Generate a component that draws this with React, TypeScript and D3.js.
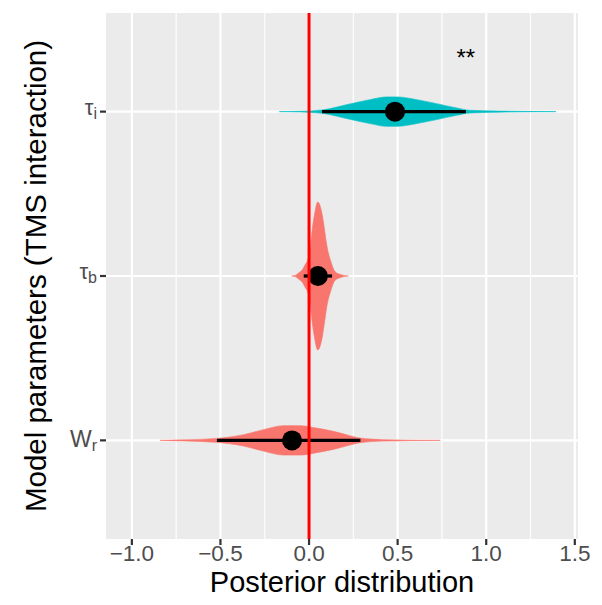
import React from 'react';
import * as d3 from 'd3';

// parameters, top to bottom
const params = ['tau_i', 'tau_b', 'W_r'];
const labelMain = ['τ', 'τ', 'W'];
const labelSub = ['i', 'b', 'r'];
const fills = ['#00BFC4', '#F8766D', '#F8766D'];

// posterior summaries (point + interval)
const medians = [0.485, 0.05, -0.096];
const lower = [0.073, -0.03, -0.52];
const upper = [0.885, 0.13, 0.29];

// densities
const tauIx = [-0.168, -0.05, 0.075, 0.231, 0.344, 0.438, 0.495, 0.608, 0.72, 0.833, 0.909, 1.078, 1.394];
const tauId = [0, 0.04, 0.23, 1.04, 1.62, 1.99, 1.99, 1.62, 1.08, 0.5, 0.18, 0.07, 0];
const tauBx = [-0.098, -0.075, -0.06, -0.035, -0.023, -0.007, 0.005, 0.01, 0.019, 0.03, 0.049, 0.075, 0.086, 0.1, 0.124, 0.147, 0.175, 0.222];
const tauBd = [0, 0.11, 0.4, 0.95, 1.5, 2.2, 3.4, 4.6, 6.5, 8.2, 10, 8.2, 6.5, 4.2, 1.9, 0.58, 0.23, 0];
const wrx = [-0.84, -0.71, -0.52, -0.37, -0.258, -0.145, -0.05, 0.043, 0.137, 0.23, 0.288, 0.42, 0.74];
const wrd = [0, 0.07, 0.27, 0.77, 1.45, 1.99, 1.99, 1.66, 1.22, 0.64, 0.31, 0.1, 0];

const xTicks = [-1.0, -0.5, 0.0, 0.5, 1.0, 1.5];
const xMinor = [-0.75, -0.25, 0.25, 0.75, 1.25];

// significance marker
const starParam = 'tau_i';
const starX = 0.885;
const starLabel = '**';

const W = 602;
const H = 605;
const FONT = '"Liberation Sans", Arial, Helvetica, sans-serif';

export default function App() {
  const left = 106, right = 578, top = 13, bottom = 539;

  const x = d3.scaleLinear().domain([-1.146, 1.518]).range([left, right]);
  const y = d3.scalePoint<string>().domain(params).range([top, bottom]).padding(0.6);
  const step = y.step();
  const w = d3.scaleLinear().domain([0, 10]).range([0, 0.45 * step]);

  const dens = [
    tauIx.map((v, i) => ({ v, d: tauId[i] })),
    tauBx.map((v, i) => ({ v, d: tauBd[i] })),
    wrx.map((v, i) => ({ v, d: wrd[i] })),
  ];

  const violin = (cy: number) =>
    d3
      .area<{ v: number; d: number }>()
      .x((d) => x(d.v))
      .y0((d) => cy - w(d.d))
      .y1((d) => cy + w(d.d))
      .curve(d3.curveMonotoneX);

  const grey = '#4D4D4D';

  return (
    <svg width={W} height={H} style={{ position: 'absolute', left: 0, top: 0 }} fontFamily={FONT}>
      <rect x={0} y={0} width={W} height={H} fill="#fff" />
      {/* panel */}
      <rect x={left} y={top} width={right - left} height={bottom - top} fill="#EBEBEB" />
      {xMinor.map((t) => (
        <line key={'mi' + t} x1={x(t)} x2={x(t)} y1={top} y2={bottom} stroke="#fff" strokeWidth={1.1} />
      ))}
      {xTicks.map((t) => (
        <line key={'ma' + t} x1={x(t)} x2={x(t)} y1={top} y2={bottom} stroke="#fff" strokeWidth={2.2} />
      ))}
      {params.map((p) => (
        <line key={'hy' + p} x1={left} x2={right} y1={y(p)} y2={y(p)} stroke="#fff" strokeWidth={2.2} />
      ))}

      {/* violins */}
      {params.map((p, i) => (
        <path
          key={'v' + p}
          d={violin(y(p) as number)(dens[i]) as string}
          fill={fills[i]}
          stroke={fills[i]}
          strokeWidth={0.6}
        />
      ))}

      {/* intervals + points */}
      {params.map((p, i) => (
        <g key={'s' + p}>
          <line x1={x(lower[i])} x2={x(upper[i])} y1={y(p)} y2={y(p)} stroke="#000" strokeWidth={3.3} />
          <circle cx={x(medians[i])} cy={y(p)} r={10} fill="#000" />
        </g>
      ))}

      {/* zero reference */}
      <line x1={x(0)} x2={x(0)} y1={top} y2={bottom} stroke="#FF0000" strokeWidth={3} />

      <text
        x={x(starX)}
        y={(y(starParam) as number) - 0.33 * step}
        textAnchor="middle"
        dominantBaseline="central"
        fontSize={24}
        fill="#000"
      >
        {starLabel}
      </text>

      {/* x axis */}
      {xTicks.map((t) => (
        <g key={'xt' + t}>
          <line x1={x(t)} x2={x(t)} y1={bottom} y2={bottom + 6} stroke="#333" strokeWidth={2.2} />
          <text x={x(t)} y={bottom + 21.5} textAnchor="middle" fontSize={22.5} fill={grey}>
            {d3.format('.1f')(t).replace('-', '\u2212')}
          </text>
        </g>
      ))}
      <text x={(left + right) / 2} y={bottom + 53} textAnchor="middle" fontSize={29} fill="#000">
        Posterior distribution
      </text>

      {/* y axis */}
      {params.map((p, i) => {
        const cy = y(p) as number;
        const greek = labelMain[i] === 'τ';
        return (
          <g key={'yt' + p}>
            <line x1={left - 6} x2={left} y1={cy} y2={cy} stroke="#333" strokeWidth={2.2} />
            <text x={left - 9} y={cy + (greek ? 3 : 7)} textAnchor="end" fontSize={greek ? 22 : 23} fill={grey}>
              {labelMain[i]}
              <tspan fontSize={16} dy={4}>
                {labelSub[i]}
              </tspan>
            </text>
          </g>
        );
      })}
      <text
        transform={`translate(35,${(top + bottom) / 2}) rotate(-90)`}
        textAnchor="middle"
        dominantBaseline="central"
        fontSize={29.5}
        fill="#000"
      >
        Model parameters (TMS interaction)
      </text>
    </svg>
  );
}
